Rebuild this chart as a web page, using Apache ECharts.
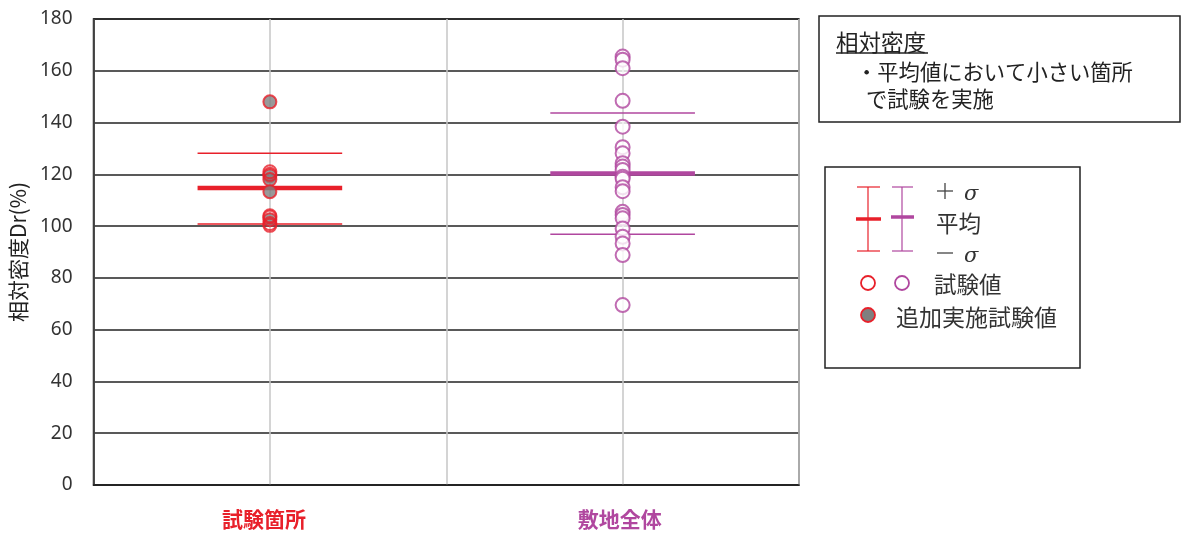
<!DOCTYPE html>
<html>
<head>
<meta charset="utf-8">
<script src="https://cdn.jsdelivr.net/npm/echarts@6/dist/echarts.min.js"></script>
<style>
  html, body { margin: 0; padding: 0; background: #fff; }
  #main { width: 1183px; height: 536px; }
</style>
</head>
<body>
<div id="main"></div>
<script>
// カテゴリ
const categories = ['試験箇所', '敷地全体'];
const catPos = [1, 3]; // x軸上の位置
// 試験値（試験箇所）
const siteOpen = [121, 120, 104, 103.5, 101, 100.3];
// 追加実施試験値（試験箇所）
const siteAdded = [148, 119.5, 118, 113.3, 102.5];
// 試験値（敷地全体）
const allOpen = [165.5, 164.3, 161, 148.4, 138.4, 130.5, 128.1, 124.3, 123, 121.7,
  119.1, 118.3, 115, 113.5, 105.5, 104.3, 103, 99.1, 95.9, 93.3, 88.8, 69.5];
// 平均・±σ
const meanVals = [114.7, 120.3];
const plusSigma = [128.1, 143.7];
const minusSigma = [100.8, 96.9];
const yTicks = [0, 20, 40, 60, 80, 100, 120, 140, 160, 180];

const RED = '#e8202a';
const PURPLE = '#b0479f';
const GREY = '#7f7f7f';
const colors = [RED, PURPLE];
const half = 0.41;
const JP = '"Noto Sans CJK JP"';

const chart = echarts.init(document.getElementById('main'));

// 平均・σの横線
const lineSeries = [];
[[meanVals, 4.5], [plusSigma, 1.5], [minusSigma, 1.5]].forEach(([vals, w]) => {
  vals.forEach((v, i) => {
    lineSeries.push({
      type: 'line',
      data: [[catPos[i] - half, v], [catPos[i] + half, v]],
      symbol: 'none',
      lineStyle: { color: colors[i], width: w },
      z: 2,
      silent: true
    });
  });
});

function txt(x, y, text, size, extra) {
  return {
    type: 'text', x: x, y: y,
    style: Object.assign({
      text: text, font: size + 'px ' + JP, fill: '#333', verticalAlign: 'middle'
    }, extra || {})
  };
}

const option = {
  animation: false,
  grid: {
    left: 93, right: 384, top: 19, bottom: 51,
    show: true, borderColor: '#222', borderWidth: 1.5
  },
  xAxis: {
    type: 'value', min: 0, max: 4, interval: 1,
    axisLine: { show: true, lineStyle: { color: '#222', width: 1.5 } },
    axisTick: { show: false },
    splitLine: { show: true, lineStyle: { color: '#c6c6c6', width: 1.5 } },
    axisLabel: {
      margin: 24,
      formatter: v => {
        const k = catPos.indexOf(v);
        return k < 0 ? '' : '{c' + k + '|' + categories[k] + '}';
      },
      rich: {
        c0: { color: RED, fontSize: 21, fontWeight: 'bold', fontFamily: 'Noto Sans CJK JP', padding: [0, 12, 0, 0] },
        c1: { color: PURPLE, fontSize: 21, fontWeight: 'bold', fontFamily: 'Noto Sans CJK JP', padding: [0, 6, 0, 0] }
      }
    }
  },
  yAxis: {
    type: 'value', min: yTicks[0], max: yTicks[yTicks.length - 1], interval: 20,
    name: '相対密度Dr(%)',
    nameLocation: 'middle', nameRotate: 90, nameGap: 64,
    nameTextStyle: { color: '#222', fontSize: 21, fontFamily: 'Noto Sans CJK JP' },
    axisLine: { show: true, lineStyle: { color: '#222', width: 1.5 } },
    axisTick: { show: false },
    splitLine: { lineStyle: { color: '#222', width: 1.5 } },
    axisLabel: { color: '#333', fontSize: 19, margin: 21, fontFamily: 'Noto Sans' }
  },
  series: lineSeries.concat([
    {
      type: 'scatter',
      data: siteAdded.map(v => [catPos[0], v]),
      symbol: 'circle', symbolSize: 13,
      itemStyle: { color: GREY, borderColor: RED, borderWidth: 2 },
      z: 3
    },
    {
      type: 'scatter',
      data: siteOpen.map(v => [catPos[0], v]),
      symbol: 'circle', symbolSize: 13,
      itemStyle: { color: 'rgba(255,255,255,0)', borderColor: RED, borderWidth: 2 },
      z: 4
    },
    {
      type: 'scatter',
      data: allOpen.map(v => [catPos[1], v]),
      symbol: 'circle', symbolSize: 14,
      itemStyle: { color: '#fff', borderColor: PURPLE, borderWidth: 2 },
      z: 4
    }
  ]),
  graphic: [
    // 注記ボックス
    { type: 'rect', shape: { x: 819, y: 16, width: 361, height: 106 },
      style: { fill: '#fff', stroke: '#222', lineWidth: 1.5 } },
    txt(836, 42, '相対密度', 22.5, { fill: '#222' }),
    { type: 'line', shape: { x1: 836, y1: 53, x2: 928, y2: 53 },
      style: { stroke: '#222', lineWidth: 1.3 } },
    txt(856, 72, '・平均値において小さい箇所', 21.3, { fill: '#222' }),
    txt(866, 99, 'で試験を実施', 21.3, { fill: '#222' }),
    // 凡例ボックス
    { type: 'rect', shape: { x: 825, y: 167, width: 255, height: 201 },
      style: { fill: '#fff', stroke: '#222', lineWidth: 1.5 } },
    // 赤のIバー
    { type: 'line', shape: { x1: 868, y1: 187, x2: 868, y2: 251 }, style: { stroke: RED, lineWidth: 1.2 } },
    { type: 'line', shape: { x1: 857, y1: 187, x2: 880, y2: 187 }, style: { stroke: RED, lineWidth: 1.2 } },
    { type: 'line', shape: { x1: 857, y1: 251, x2: 880, y2: 251 }, style: { stroke: RED, lineWidth: 1.2 } },
    { type: 'line', shape: { x1: 856, y1: 219, x2: 881, y2: 219 }, style: { stroke: RED, lineWidth: 3.5 } },
    // 紫のIバー
    { type: 'line', shape: { x1: 902, y1: 187, x2: 902, y2: 251 }, style: { stroke: PURPLE, lineWidth: 1.2 } },
    { type: 'line', shape: { x1: 892, y1: 187, x2: 913, y2: 187 }, style: { stroke: PURPLE, lineWidth: 1.2 } },
    { type: 'line', shape: { x1: 892, y1: 251, x2: 913, y2: 251 }, style: { stroke: PURPLE, lineWidth: 1.2 } },
    { type: 'line', shape: { x1: 891, y1: 217, x2: 914, y2: 217 }, style: { stroke: PURPLE, lineWidth: 3.5 } },
    // ＋σ / －σ
    { type: 'line', shape: { x1: 937, y1: 191, x2: 953, y2: 191 }, style: { stroke: '#444', lineWidth: 1.3 } },
    { type: 'line', shape: { x1: 945, y1: 183, x2: 945, y2: 199 }, style: { stroke: '#444', lineWidth: 1.3 } },
    txt(964, 195, 'σ', 21, { font: 'italic 21px "DejaVu Serif"' }),
    txt(936, 223, '平均', 22.5),
    { type: 'line', shape: { x1: 937, y1: 253, x2: 953, y2: 253 }, style: { stroke: '#444', lineWidth: 1.3 } },
    txt(964, 257, 'σ', 21, { font: 'italic 21px "DejaVu Serif"' }),
    { type: 'circle', shape: { cx: 868, cy: 283, r: 7 }, style: { fill: '#fff', stroke: RED, lineWidth: 1.8 } },
    { type: 'circle', shape: { cx: 902, cy: 283, r: 7 }, style: { fill: '#fff', stroke: PURPLE, lineWidth: 1.8 } },
    txt(934, 284, '試験値', 22.5),
    { type: 'circle', shape: { cx: 868, cy: 315, r: 7 }, style: { fill: GREY, stroke: RED, lineWidth: 1.8 } },
    txt(896, 317, '追加実施試験値', 23)
  ]
};

chart.setOption(option);
</script>
</body>
</html>
